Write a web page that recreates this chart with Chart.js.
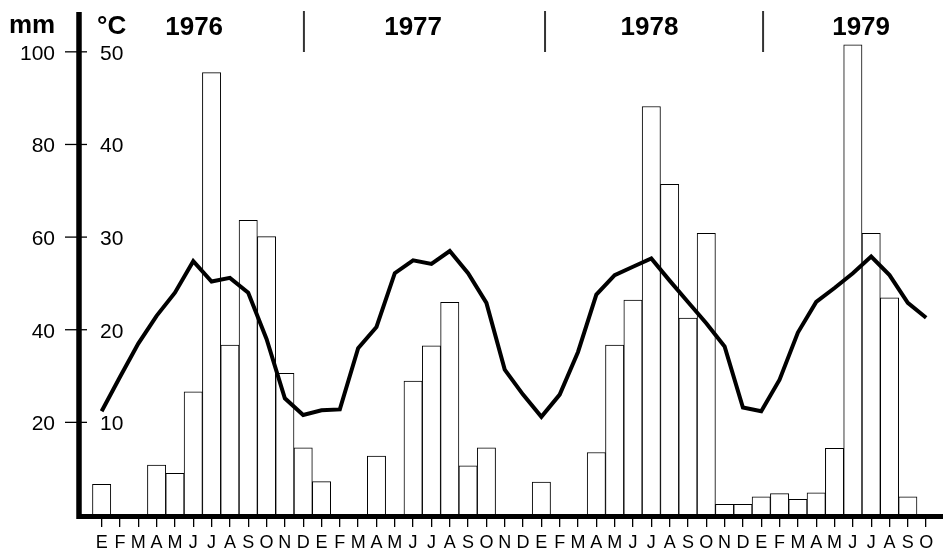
<!DOCTYPE html>
<html>
<head>
<meta charset="utf-8">
<title>Precipitación y temperatura 1976-1979</title>
<script src="https://cdn.jsdelivr.net/npm/chart.js@4.4.1/dist/chart.umd.min.js"></script>
<style>
  html, body { margin: 0; padding: 0; background: #fff; }
  #wrap { width: 943px; height: 553px; }
</style>
</head>
<body>
<div id="wrap"><canvas id="climate" width="943" height="553"></canvas></div>
<script>
// ---------- DATA ----------
const months = [
  "E","F","M","A","M","J","J","A","S","O","N","D",
  "E","F","M","A","M","J","J","A","S","O","N","D",
  "E","F","M","A","M","J","J","A","S","O","N","D",
  "E","F","M","A","M","J","J","A","S","O"
];

// monthly rainfall, mm
const rainfall = [
  6.6, 0, 0, 10.8, 9.0, 26.6, 95.5, 36.7, 63.6, 60.1, 30.6, 14.5,
  7.2, 0, 0, 12.7, 0, 28.9, 36.5, 45.9, 10.6, 14.5, 0, 0,
  7.1, 0, 0, 13.5, 36.7, 46.4, 88.2, 71.4, 42.5, 60.8, 2.3, 2.3,
  3.9, 4.6, 3.4, 4.8, 14.4, 101.5, 60.8, 46.9, 3.9, 0
];

// monthly mean temperature, °C
const temperature = [
  11.2, 14.9, 18.5, 21.5, 24.0, 27.4, 25.2, 25.6, 24.0, 19.0, 12.6, 10.8,
  11.3, 11.4, 18.0, 20.3, 26.1, 27.5, 27.1, 28.5, 26.1, 22.9, 15.7, 13.0,
  10.6, 13.0, 17.6, 23.8, 25.9, 26.8, 27.7, 25.3, 23.0, 20.7, 18.2, 11.6,
  11.2, 14.6, 19.7, 23.0, 24.5, 26.1, 27.9, 25.9, 22.9, 21.3
];

const years = ["1976", "1977", "1978", "1979"];
const mmTicks = [20, 40, 60, 80, 100];
const tempTicks = [10, 20, 30, 40, 50];

// ---------- LAYOUT (month-index units) ----------
const X_MIN = -1.29;
const X_MAX = 45.92;
const MM_MAX = 108.6;
const yearCentres = [5.05, 17.0, 29.9, 41.45];
const yearSeparators = [11.04, 24.2, 36.1];

const FONT = "'Liberation Sans', Arial, Helvetica, sans-serif";

// ---------- AXES + TITLES ----------
const frame = {
  id: "frame",
  afterDraw(chart) {
    const { ctx, chartArea } = chart;
    const { x, y, y1 } = chart.scales;
    const left = chartArea.left;
    const base = y.getPixelForValue(0);

    ctx.save();
    ctx.strokeStyle = "#000";
    ctx.fillStyle = "#000";

    // thick y axis
    ctx.lineWidth = 5.5;
    ctx.beginPath();
    ctx.moveTo(left + 1, chartArea.top);
    ctx.lineTo(left + 1, base + 4);
    ctx.stroke();

    // thick baseline
    ctx.lineWidth = 5;
    ctx.beginPath();
    ctx.moveTo(left - 1, base + 1.5);
    ctx.lineTo(chartArea.right, base + 1.5);
    ctx.stroke();

    // y ticks
    ctx.lineWidth = 1.3;
    ctx.font = "21px " + FONT;
    ctx.textBaseline = "middle";
    mmTicks.forEach((v) => {
      const py = y.getPixelForValue(v);
      ctx.beginPath();
      ctx.moveTo(left - 13, py);
      ctx.lineTo(left + 9, py);
      ctx.stroke();
      ctx.textAlign = "right";
      ctx.fillText(String(v), left - 23, py + 2);
    });
    tempTicks.forEach((t) => {
      const py = y1.getPixelForValue(t);
      ctx.textAlign = "left";
      ctx.fillText(String(t), left + 22, py + 2);
    });

    // units
    ctx.font = "bold 26px " + FONT;
    ctx.textBaseline = "alphabetic";
    ctx.textAlign = "left";
    ctx.fillText("mm", 9, 33);
    ctx.fillText("°C", left + 19, 34);

    // years
    ctx.textAlign = "center";
    years.forEach((label, i) => {
      ctx.fillText(label, x.getPixelForValue(yearCentres[i]), 35);
    });

    // year separators
    ctx.strokeStyle = "#333";
    ctx.lineWidth = 2;
    yearSeparators.forEach((s) => {
      const px = x.getPixelForValue(s);
      ctx.beginPath();
      ctx.moveTo(px, 11);
      ctx.lineTo(px, 52);
      ctx.stroke();
    });

    ctx.restore();
  }
};

// ---------- CHART ----------
const ctx = document.getElementById("climate").getContext("2d");

new Chart(ctx, {
  type: "bar",
  data: {
    datasets: [
      {
        type: "line",
        label: "Temperatura",
        data: temperature.map((t, i) => ({ x: i, y: t })),
        yAxisID: "y1",
        borderColor: "#000",
        borderWidth: 4,
        pointRadius: 0,
        tension: 0,
        fill: false,
        order: 0,
      },
      {
        type: "bar",
        label: "Precipitación",
        data: rainfall.map((v, i) => ({ x: i, y: v })),
        yAxisID: "y",
        backgroundColor: "#fff",
        borderColor: "#000",
        borderWidth: 1,
        borderSkipped: "bottom",
        barPercentage: 1,
        categoryPercentage: 1,
        order: 1,
      },
    ],
  },
  options: {
    responsive: false,
    devicePixelRatio: 1,
    animation: false,
    layout: { padding: { left: 78, right: 0, top: 12, bottom: 0 } },
    plugins: {
      legend: { display: false },
      tooltip: { enabled: false },
    },
    scales: {
      x: {
        type: "linear",
        min: X_MIN,
        max: X_MAX,
        offset: false,
        afterBuildTicks: (scale) => {
          scale.ticks = months.map((m, i) => ({ value: i }));
        },
        afterFit: (scale) => {
          scale.height = 38;
        },
        grid: {
          display: true,
          offset: false,
          drawOnChartArea: false,
          drawTicks: true,
          tickLength: 12,
          color: "#000",
          lineWidth: 1.3,
        },
        border: { display: false },
        ticks: {
          autoSkip: false,
          maxRotation: 0,
          padding: 5,
          color: "#000",
          font: { family: FONT, size: 18 },
          callback: (v) => months[v],
        },
      },
      y: { display: false, min: 0, max: MM_MAX },
      y1: { display: false, min: 0, max: MM_MAX / 2 },
    },
  },
  plugins: [frame],
});
</script>
</body>
</html>
